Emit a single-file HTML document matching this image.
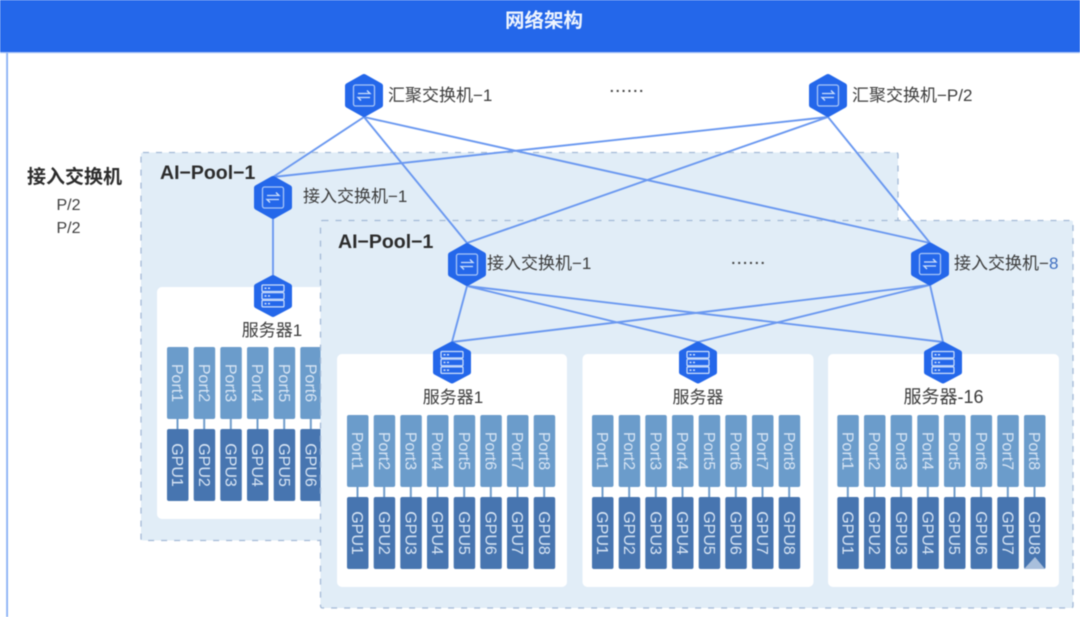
<!DOCTYPE html>
<html lang="zh">
<head>
<meta charset="utf-8">
<title>网络架构</title>
<style>
html,body{margin:0;padding:0;background:#fff;width:1080px;height:617px;overflow:hidden}
svg{display:block;filter:blur(.5px)}
text{font-family:"Liberation Sans","Noto Sans CJK SC",sans-serif}
.l{font-size:17px;fill:#3c3c3c}
.b{font-weight:700;fill:#2c2c2c}
.r text{font-size:16px;fill:#d8e5f4;text-anchor:middle}
.c{text-anchor:middle}
</style>
</head>
<body>
<svg width="1080" height="617" viewBox="0 0 1080 617" xmlns="http://www.w3.org/2000/svg">
<defs>
<g id="rack">
<g fill="#6f9ccb">
<rect x="9.500" y="72" width="2" height="10"/><rect x="36.200" y="72" width="2" height="10"/><rect x="62.800" y="72" width="2" height="10"/><rect x="89.500" y="72" width="2" height="10"/><rect x="116.200" y="72" width="2" height="10"/><rect x="142.800" y="72" width="2" height="10"/><rect x="169.500" y="72" width="2" height="10"/><rect x="196.200" y="72" width="2" height="10"/>
</g>
<g fill="#6b9ccb">
<rect x="0" y="0" width="21.500" height="72" rx="2"/><rect x="26.700" y="0" width="21.500" height="72" rx="2"/><rect x="53.300" y="0" width="21.500" height="72" rx="2"/><rect x="80" y="0" width="21.500" height="72" rx="2"/><rect x="106.700" y="0" width="21.500" height="72" rx="2"/><rect x="133.300" y="0" width="21.500" height="72" rx="2"/><rect x="160" y="0" width="21.500" height="72" rx="2"/><rect x="186.700" y="0" width="21.500" height="72" rx="2"/>
</g>
<g fill="#4775b0">
<rect x="0" y="82" width="21.500" height="72" rx="2"/><rect x="26.700" y="82" width="21.500" height="72" rx="2"/><rect x="53.300" y="82" width="21.500" height="72" rx="2"/><rect x="80" y="82" width="21.500" height="72" rx="2"/><rect x="106.700" y="82" width="21.500" height="72" rx="2"/><rect x="133.300" y="82" width="21.500" height="72" rx="2"/><rect x="160" y="82" width="21.500" height="72" rx="2"/><rect x="186.700" y="82" width="21.500" height="72" rx="2"/>
</g>
</g>
<g id="sw">
<path d="M0-18.500 L16-9.500 V9.500 L0 18.500 L-16 9.500 V-9.500Z" fill="#2467ea" stroke="#2467ea" stroke-width="6" stroke-linejoin="round"/>
<rect x="-10.500" y="-10.500" width="21" height="21" rx="2" fill="none" stroke="#a9c6f7" stroke-width="1.300"/>
<path d="M-6-2H6L3-5M6 2H-6L-3 5" fill="none" stroke="#cfe0fb" stroke-width="1.300"/>
</g>
<g id="srv">
<path d="M0-18 L16-9.500 V9.500 L0 18 L-16 9.500 V-9.500Z" fill="#2467ea" stroke="#2467ea" stroke-width="6" stroke-linejoin="round"/>
<g fill="none" stroke="#cfe0fb" stroke-width="1.200">
<rect x="-11" y="-11" width="22" height="6.500" rx="1"/>
<rect x="-11" y="-3.300" width="22" height="6.500" rx="1"/>
<rect x="-11" y="4.400" width="22" height="6.500" rx="1"/>
</g>
<g fill="#cfe0fb">
<rect x="-8.500" y="-8.500" width="2" height="1.500"/><rect x="-5" y="-8.500" width="2" height="1.500"/>
<rect x="-8.500" y="-.8" width="2" height="1.500"/><rect x="-5" y="-.8" width="2" height="1.500"/>
<rect x="-8.500" y="6.900" width="2" height="1.500"/><rect x="-5" y="6.900" width="2" height="1.500"/>
</g>
</g>
</defs>

<rect x="0" y="0" width="1080" height="52" fill="#2467ea"/>
<rect x="0" y="52" width="1080" height="1.200" fill="#a8c4f7"/>
<rect x="6.200" y="53" width="1.800" height="564" fill="#8ab0f5"/>
<text x="544" y="27" class="c" font-size="19.500" font-weight="700" fill="#eef4fe">网络架构</text>

<text x="27" y="183" font-size="19" font-weight="700" fill="#2c2c2c">接入交换机</text>
<text x="68.500" y="210" class="c" font-size="16" fill="#3c3c3c">P/2</text>
<text x="68.500" y="233" class="c" font-size="16" fill="#3c3c3c">P/2</text>

<!-- Pool 1 -->
<rect x="141" y="152.500" width="757" height="388" rx="2" fill="#e1edf7" stroke="#a3b9d6" stroke-width="1.300" stroke-dasharray="6 7"/>
<text x="160" y="179" class="b" font-size="19.500">AI−Pool−1</text>
<rect x="157" y="287" width="200" height="232" rx="5" fill="#fff"/>
<use href="#rack" x="167" y="347"/>
<g class="r" transform="translate(167 347) rotate(90)">
<text x="36" y="-5.200">Port1</text><text x="36" y="-31.900">Port2</text><text x="36" y="-58.500">Port3</text><text x="36" y="-85.200">Port4</text><text x="36" y="-111.900">Port5</text><text x="36" y="-138.500">Port6</text>
<text x="118" y="-5.200">GPU1</text><text x="118" y="-31.900">GPU2</text><text x="118" y="-58.500">GPU3</text><text x="118" y="-85.200">GPU4</text><text x="118" y="-111.900">GPU5</text><text x="118" y="-138.500">GPU6</text>
</g>
<text x="272" y="336" class="l c">服务器1</text>

<!-- Pool 2 -->
<rect x="320.500" y="220.500" width="752.500" height="387.500" rx="2" fill="#e1edf7" stroke="#a3b9d6" stroke-width="1.300" stroke-dasharray="6 7"/>
<text x="338" y="248" class="b" font-size="19.500">AI−Pool−1</text>

<rect x="337" y="354" width="230" height="233" rx="5" fill="#fff"/>
<rect x="582.500" y="354" width="231" height="233" rx="5" fill="#fff"/>
<rect x="828" y="354" width="231" height="233" rx="5" fill="#fff"/>

<use href="#rack" x="347" y="415"/>
<g class="r" transform="translate(347 415) rotate(90)">
<text x="36" y="-5.200">Port1</text><text x="36" y="-31.900">Port2</text><text x="36" y="-58.500">Port3</text><text x="36" y="-85.200">Port4</text><text x="36" y="-111.900">Port5</text><text x="36" y="-138.500">Port6</text><text x="36" y="-165.200">Port7</text><text x="36" y="-191.900">Port8</text>
<text x="118" y="-5.200">GPU1</text><text x="118" y="-31.900">GPU2</text><text x="118" y="-58.500">GPU3</text><text x="118" y="-85.200">GPU4</text><text x="118" y="-111.900">GPU5</text><text x="118" y="-138.500">GPU6</text><text x="118" y="-165.200">GPU7</text><text x="118" y="-191.900">GPU8</text>
</g>
<use href="#rack" x="592" y="415"/>
<g class="r" transform="translate(592 415) rotate(90)">
<text x="36" y="-5.200">Port1</text><text x="36" y="-31.900">Port2</text><text x="36" y="-58.500">Port3</text><text x="36" y="-85.200">Port4</text><text x="36" y="-111.900">Port5</text><text x="36" y="-138.500">Port6</text><text x="36" y="-165.200">Port7</text><text x="36" y="-191.900">Port8</text>
<text x="118" y="-5.200">GPU1</text><text x="118" y="-31.900">GPU2</text><text x="118" y="-58.500">GPU3</text><text x="118" y="-85.200">GPU4</text><text x="118" y="-111.900">GPU5</text><text x="118" y="-138.500">GPU6</text><text x="118" y="-165.200">GPU7</text><text x="118" y="-191.900">GPU8</text>
</g>
<use href="#rack" x="837.300" y="415"/>
<g class="r" transform="translate(837.300 415) rotate(90)">
<text x="36" y="-5.200">Port1</text><text x="36" y="-31.900">Port2</text><text x="36" y="-58.500">Port3</text><text x="36" y="-85.200">Port4</text><text x="36" y="-111.900">Port5</text><text x="36" y="-138.500">Port6</text><text x="36" y="-165.200">Port7</text><text x="36" y="-191.900">Port8</text>
<text x="118" y="-5.200">GPU1</text><text x="118" y="-31.900">GPU2</text><text x="118" y="-58.500">GPU3</text><text x="118" y="-85.200">GPU4</text><text x="118" y="-111.900">GPU5</text><text x="118" y="-138.500">GPU6</text><text x="118" y="-165.200">GPU7</text><text x="118" y="-191.900">GPU8</text>
</g>
<path d="M1035 557 L1045 569 H1024Z" fill="#a9bfdc"/>

<text x="453" y="403" class="l c">服务器1</text>
<text x="698" y="403" class="l c">服务器</text>
<text x="943.500" y="403" class="c" font-size="18" fill="#3c3c3c">服务器-16</text>

<!-- Connectors -->
<g stroke="#6a98f0" stroke-width="1.900" fill="none">
<path d="M364 117L273 177M364 117L467 243M364 117L930 243M828 117L273 177M828 117L467 243M828 117L930 243"/>
<path d="M273 218V275"/>
<path d="M467 286L452 342M467 286L698 342M467 286L943 342M930 285L452 342M930 285L698 342M930 285L943 342"/>
</g>

<!-- Nodes -->
<use href="#sw" x="364" y="95.500"/>
<use href="#sw" x="828" y="95.500"/>
<use href="#sw" x="273" y="197.500"/>
<use href="#sw" x="467" y="264.500"/>
<use href="#sw" x="930" y="264"/>
<use href="#srv" x="273" y="296"/>
<use href="#srv" x="452" y="362.500"/>
<use href="#srv" x="698" y="362.500"/>
<use href="#srv" x="943" y="362.500"/>

<text x="388" y="101" class="l">汇聚交换机−1</text>
<text x="852" y="101" class="l">汇聚交换机−P/2</text>
<text x="303" y="202" class="l">接入交换机−1</text>
<text x="487" y="269" class="l">接入交换机−1</text>
<text x="954" y="269" class="l">接入交换机−<tspan fill="#3f6fc0">8</tspan></text>
<text x="627.500" y="92" class="c" font-size="14" font-weight="700" fill="#444" letter-spacing="2">......</text>
<text x="749" y="264" class="c" font-size="14" font-weight="700" fill="#444" letter-spacing="2">......</text>
</svg>
</body>
</html>
